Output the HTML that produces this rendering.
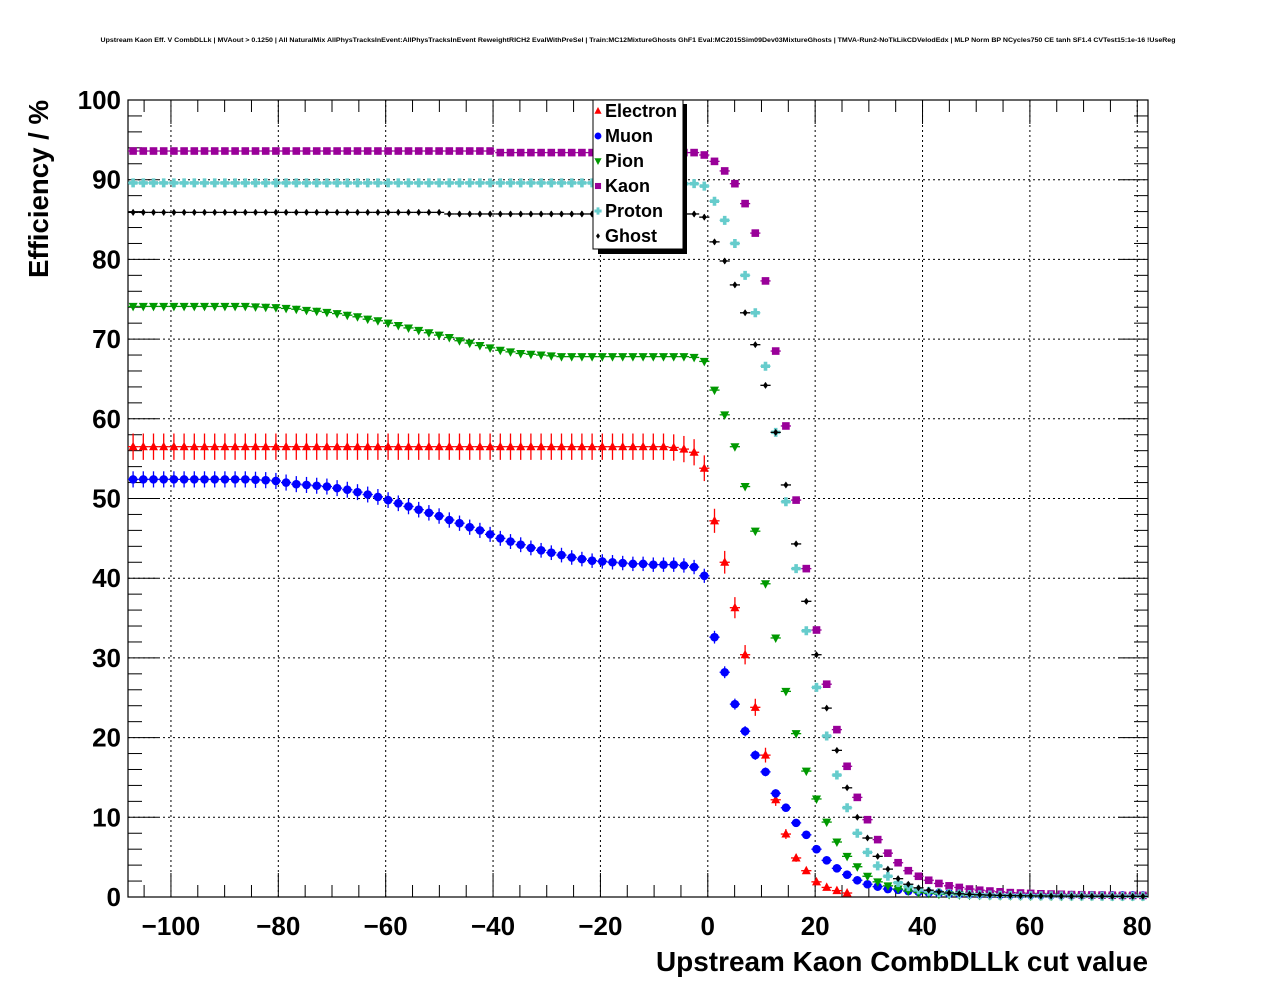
<!DOCTYPE html>
<html><head><meta charset="utf-8"><style>
html,body{margin:0;padding:0;background:#fff;}
svg{display:block;font-family:"Liberation Sans",sans-serif;}
</style></head><body>
<svg id="chart" width="1276" height="996" viewBox="0 0 1276 996">
<rect width="1276" height="996" fill="#fff"/>
<text x="638" y="42" text-anchor="middle" font-size="6.5" font-weight="bold" textLength="1075" lengthAdjust="spacingAndGlyphs">Upstream Kaon Eff. V CombDLLk | MVAout &gt; 0.1250 | All NaturalMix AllPhysTracksInEvent:AllPhysTracksInEvent ReweightRICH2 EvalWithPreSel | Train:MC12MixtureGhosts GhF1 Eval:MC2015Sim09Dev03MixtureGhosts | TMVA-Run2-NoTkLikCDVelodEdx | MLP Norm BP NCycles750 CE tanh SF1.4 CVTest15:1e-16 !UseReg</text>
<g id="grid"></g>
<g id="axes"></g>
<g id="series"></g>
<text x="1148" y="971" text-anchor="end" font-size="28" font-weight="bold" textLength="492" lengthAdjust="spacingAndGlyphs">Upstream Kaon CombDLLk cut value</text>
<text transform="translate(48,278) rotate(-90)" font-size="28" font-weight="bold" textLength="178" lengthAdjust="spacingAndGlyphs">Efficiency / %</text>
<g id="legend"></g>
</svg>
<script>
const xTicks=[-100,-80,-60,-40,-20,0,20,40,60,80];
const yTicks=[0,10,20,30,40,50,60,70,80,90,100];
const binStart=-108, binWidth=1.9, nBins=100;
const electron=[56.5,56.5,56.5,56.5,56.5,56.5,56.5,56.5,56.5,56.5,56.5,56.5,56.5,56.5,56.5,56.5,56.5,56.5,56.5,56.5,56.5,56.5,56.5,56.5,56.5,56.5,56.5,56.5,56.5,56.5,56.5,56.5,56.5,56.5,56.5,56.5,56.5,56.5,56.5,56.5,56.5,56.5,56.5,56.5,56.5,56.5,56.5,56.5,56.5,56.5,56.5,56.5,56.5,56.4,56.2,55.8,53.8,47.2,42.0,36.3,30.4,23.8,17.8,12.2,7.9,4.9,3.3,1.9,1.2,0.8,0.5,0,0,0,0,0,0,0,0,0,0,0,0,0,0,0,0,0,0,0,0,0,0,0,0,0,0,0,0,0];
const muon=[52.4,52.4,52.4,52.4,52.4,52.4,52.4,52.4,52.4,52.4,52.4,52.4,52.35,52.3,52.2,52.0,51.8,51.7,51.6,51.5,51.3,51.1,50.8,50.5,50.2,49.8,49.4,49.0,48.6,48.2,47.8,47.3,46.9,46.4,46.0,45.5,45.0,44.6,44.2,43.8,43.5,43.2,42.9,42.6,42.4,42.2,42.1,42.0,41.9,41.8,41.8,41.7,41.7,41.7,41.6,41.4,40.3,32.6,28.2,24.2,20.8,17.8,15.7,13.0,11.2,9.3,7.8,6.0,4.6,3.6,2.8,2.1,1.6,1.3,1.0,0.9,0.75,0.65,0.55,0.5,0.45,0.4,0.38,0.35,0.33,0.3,0.3,0.28,0.27,0.26,0.25,0.25,0.24,0.23,0.23,0.22,0.22,0.21,0.21,0.2];
const pion=[74.1,74.1,74.1,74.1,74.1,74.1,74.1,74.1,74.1,74.1,74.1,74.1,74.05,74.0,73.95,73.85,73.75,73.6,73.5,73.35,73.2,73.0,72.8,72.5,72.3,72.0,71.7,71.4,71.1,70.8,70.5,70.2,69.8,69.5,69.2,68.9,68.6,68.4,68.2,68.1,68.0,67.9,67.8,67.8,67.8,67.8,67.8,67.8,67.8,67.8,67.8,67.8,67.8,67.8,67.8,67.7,67.2,63.6,60.5,56.5,51.5,45.9,39.3,32.5,25.8,20.5,15.8,12.3,9.4,6.9,5.1,3.8,2.6,1.9,1.4,1.0,0.75,0.55,0.45,0.35,0.3,0.25,0.22,0.2,0.18,0.16,0.15,0.14,0.13,0.12,0.11,0.1,0.1,0.1,0.09,0.09,0.08,0.08,0.08,0.08];
const kaon=[93.6,93.6,93.6,93.6,93.6,93.6,93.6,93.6,93.6,93.6,93.6,93.6,93.6,93.6,93.6,93.6,93.6,93.6,93.6,93.6,93.6,93.6,93.6,93.6,93.6,93.6,93.6,93.6,93.6,93.6,93.6,93.6,93.6,93.6,93.6,93.6,93.4,93.4,93.4,93.4,93.4,93.4,93.4,93.4,93.4,93.4,93.4,93.4,93.4,93.4,93.4,93.4,93.4,93.4,93.4,93.4,93.1,92.3,91.1,89.5,87.0,83.3,77.3,68.5,59.1,49.8,41.2,33.5,26.7,21.0,16.4,12.5,9.7,7.2,5.5,4.3,3.3,2.6,2.1,1.7,1.4,1.2,1.0,0.85,0.75,0.65,0.55,0.5,0.45,0.4,0.37,0.34,0.3,0.28,0.26,0.24,0.22,0.2,0.2,0.2];
const proton=[89.6,89.6,89.6,89.6,89.6,89.6,89.6,89.6,89.6,89.6,89.6,89.6,89.6,89.6,89.6,89.6,89.6,89.6,89.6,89.6,89.6,89.6,89.6,89.6,89.6,89.6,89.6,89.6,89.6,89.6,89.6,89.6,89.6,89.6,89.6,89.6,89.6,89.6,89.6,89.6,89.6,89.6,89.6,89.6,89.6,89.6,89.6,89.6,89.6,89.6,89.6,89.6,89.6,89.5,89.5,89.5,89.2,87.3,84.9,82.0,78.0,73.3,66.6,58.3,49.6,41.2,33.4,26.3,20.2,15.3,11.2,8.0,5.6,3.9,2.6,1.8,1.3,0.9,0.7,0.55,0.45,0.38,0.32,0.28,0.25,0.22,0.2,0.18,0.17,0.16,0.15,0.14,0.13,0.12,0.12,0.11,0.1,0.1,0.1,0.1];
const ghost=[85.9,85.9,85.9,85.9,85.9,85.9,85.9,85.9,85.9,85.9,85.9,85.9,85.9,85.9,85.9,85.9,85.9,85.9,85.9,85.9,85.9,85.9,85.9,85.9,85.9,85.9,85.9,85.9,85.9,85.9,85.9,85.7,85.7,85.7,85.7,85.7,85.7,85.7,85.7,85.7,85.7,85.7,85.7,85.7,85.7,85.7,85.7,85.7,85.7,85.7,85.7,85.7,85.7,85.7,85.7,85.7,85.3,82.2,79.8,76.8,73.3,69.3,64.2,58.3,51.7,44.3,37.1,30.4,23.7,18.4,13.7,10.0,7.4,5.1,3.5,2.3,1.6,1.15,0.85,0.65,0.5,0.4,0.33,0.28,0.24,0.2,0.18,0.16,0.14,0.13,0.12,0.11,0.1,0.1,0.09,0.09,0.08,0.08,0.08,0.08];
const seriesNames=["Electron","Muon","Pion","Kaon","Proton","Ghost"];

const NS="http://www.w3.org/2000/svg";
const L=128,R=1148,T=100,B=897,xmin=-108,xmax=82;
const X=v=>L+(v-xmin)/(xmax-xmin)*(R-L);
const Y=v=>B-v/100*(B-T);
function mk(tag,attrs,parent){const e=document.createElementNS(NS,tag);for(const k in attrs)e.setAttribute(k,attrs[k]);parent.appendChild(e);return e;}
const grid=document.getElementById('grid'),axes=document.getElementById('axes'),ser=document.getElementById('series'),leg=document.getElementById('legend');

xTicks.forEach(t=>{
  const g=mk('line',{x1:X(t),x2:X(t),y1:T,y2:B,stroke:'#000','stroke-width':1,'stroke-dasharray':'2,3'},grid);
  
  
  const lb=mk('text',{x:X(t),y:935,'text-anchor':'middle','font-size':26,'font-weight':'bold'},axes);
  lb.textContent=(t<0?'\u2212'+(-t):String(t));
  
  
});
yTicks.forEach(t=>{
  if(t>0&&t<100){const g=mk('line',{x1:L,x2:R,y1:Y(t),y2:Y(t),stroke:'#000','stroke-width':1,'stroke-dasharray':'2,3'},grid);
  
  }
  const lb=mk('text',{x:121,y:Y(t)+9,'text-anchor':'end','font-size':26,'font-weight':'bold'},axes);
  lb.textContent=String(t);
  
  
});
for(let v=-105;v<=80;v+=5){const major=v%20===0;const len=major?24:12;
  mk('line',{x1:X(v),x2:X(v),y1:B,y2:B-len,stroke:'#000','stroke-width':1},axes);
  mk('line',{x1:X(v),x2:X(v),y1:T,y2:T+len,stroke:'#000','stroke-width':1},axes);}
for(let v=0;v<=100;v+=2){const major=v%10===0;const len=major?30:14;
  mk('line',{x1:L,x2:L+len,y1:Y(v),y2:Y(v),stroke:'#000','stroke-width':1},axes);
  mk('line',{x1:R,x2:R-len,y1:Y(v),y2:Y(v),stroke:'#000','stroke-width':1},axes);}
const frame=mk('rect',{x:L,y:T,width:R-L,height:B-T,fill:'none',stroke:'#000','stroke-width':1.2},axes);



function marker(type,cx,cy,col,p,s){
  s=s||1;
  if(type==='tri')return mk('polygon',{points:`${cx},${cy-5*s} ${cx-4.5*s},${cy+3.5*s} ${cx+4.5*s},${cy+3.5*s}`,fill:col},p);
  if(type==='circ')return mk('circle',{cx:cx,cy:cy,r:4.3*s,fill:col},p);
  if(type==='itri')return mk('polygon',{points:`${cx},${cy+5*s} ${cx-4.5*s},${cy-3.5*s} ${cx+4.5*s},${cy-3.5*s}`,fill:col},p);
  if(type==='sq')return mk('rect',{x:cx-3.8*s,y:cy-3.8*s,width:7.6*s,height:7.6*s,fill:col},p);
  if(type==='cross')return mk('path',{d:`M${cx-1.8*s},${cy-4.5*s}h${3.6*s}v${2.7*s}h${2.7*s}v${3.6*s}h${-2.7*s}v${2.7*s}h${-3.6*s}v${-2.7*s}h${-2.7*s}v${-3.6*s}h${2.7*s}z`,fill:col},p);
  return mk('path',{d:`M${cx},${cy-3.5*s}L${cx+2.5*s},${cy}L${cx},${cy+3.5*s}L${cx-2.5*s},${cy}z`,fill:col},p);
}
const defs=[
 {data:electron,col:'#ff0000',type:'tri',ek:0.22},
 {data:muon,col:'#0000ff',type:'circ',ek:0.14},
 {data:pion,col:'#009900',type:'itri',ek:0.05},
 {data:kaon,col:'#990099',type:'sq',ek:0.03},
 {data:proton,col:'#66cccc',type:'cross',ek:0.04},
 {data:ghost,col:'#000000',type:'dia',ek:0.04}
];
defs.forEach((d,si)=>{
  const g=mk('g',{},ser);
  
  
  d.data.forEach((v,i)=>{
    if(v<=0)return;
    const xc=binStart+binWidth*(i+0.5);
    const cx=X(xc),cy=Y(v);
    const err=d.ek*Math.sqrt(v);
    mk('line',{x1:X(xc-binWidth/2),x2:X(xc+binWidth/2),y1:cy,y2:cy,stroke:d.col,'stroke-width':1.3},g);
    mk('line',{x1:cx,x2:cx,y1:Y(Math.min(100,v+err)),y2:Y(Math.max(0,v-err)),stroke:d.col,'stroke-width':1.3},g);
    const m=marker(d.type,cx,cy,d.col,g);
    
    
  });
});
mk('rect',{x:598,y:104,width:89,height:150,fill:'#000'},leg);
mk('rect',{x:593,y:100,width:90,height:149,fill:'#fff',stroke:'#000','stroke-width':1},leg);
seriesNames.forEach((n,i)=>{
  const y=111+i*25;
  const d=defs[i];
  const ent=mk('g',{},leg);
  
  
  marker(d.type,598,y,d.col,ent,0.8);
  const t=mk('text',{x:605,y:y+6,'font-size':18,'font-weight':'bold'},ent);
  t.textContent=n;
});
</script>
</body></html>
